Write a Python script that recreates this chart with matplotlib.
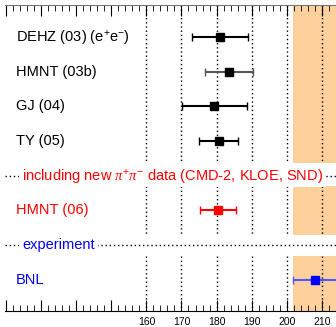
import matplotlib
matplotlib.use('Agg')
import matplotlib.pyplot as plt
import numpy as np

plt.rcParams['font.family'] = ['Liberation Sans', 'DejaVu Sans']
plt.rcParams['mathtext.fontset'] = 'custom'
plt.rcParams['mathtext.rm'] = 'Liberation Sans'
plt.rcParams['mathtext.it'] = 'Liberation Serif:italic'

labels = ['DEHZ (03) (e$^{+}$e$^{-}$)', 'HMNT (03b)', 'GJ (04)', 'TY (05)', 'HMNT (06)', 'BNL']
rows = [1, 2, 3, 4, 6, 8]
values = [180.9, 183.5, 179.4, 180.6, 180.4, 208.0]
errors = [8.0, 6.8, 9.3, 5.6, 5.1, 6.3]
colors = ['black', 'black', 'black', 'black', 'red', 'blue']
bar_colors = ['black', '#555555', 'black', 'black', 'red', '#5555ff']
text_colors = ['black', 'black', 'black', 'black', 'red', 'blue']

grid_x = [160, 170, 180, 190, 200, 210]
sections = [(0.08, 4.63), (5.29, 6.71), (7.31, 8.9)]
band = (values[-1] - errors[-1], 216)

fig = plt.figure(figsize=(3.36, 3.27), dpi=100)
ax = fig.add_axes([5 / 336, 16 / 327, 1 - 5 / 336 + 0.01, 306 / 327])
ax.set_xlim(119.7, 215)
ax.set_ylim(8.9, 0.08)

dots = (0, (1, 2))
for y0, y1 in sections:
    ax.fill_betweenx([y0, y1], band[0], band[1], color='#fdd09c', lw=0, zorder=0)
    for gx in grid_x:
        ax.plot([gx, gx], [y0, y1], color='black', ls=dots, lw=1, zorder=1)

for r, v, e, c, bc, lab, tc in zip(rows, values, errors, colors, bar_colors, labels, text_colors):
    ax.errorbar(v, r, xerr=e, fmt='s', color=c, ecolor=bc, ms=6, capsize=3,
                elinewidth=1.5, capthick=1, zorder=3)
    ax.text(122.7, r, lab, color=tc, fontsize=10.5, va='center', ha='left')

# separator lines
ax.axhline(5, color='black', ls=dots, lw=1, zorder=1)
ax.axhline(7, color='black', ls=dots, lw=1, zorder=1)
ax.text(124.6, 5, r'including new $\mathit{\pi}^{+}\mathit{\pi}^{-}$ data (CMD-2, KLOE, SND)',
        color='red', fontsize=10.5, va='center', ha='left', zorder=4,
        bbox=dict(facecolor='white', edgecolor='none', pad=2))
ax.text(124.6, 7, 'experiment', color='blue', fontsize=10.5, va='center',
        ha='left', zorder=4, bbox=dict(facecolor='white', edgecolor='none', pad=2))

ax.spines['left'].set_visible(False)
ax.spines['right'].set_visible(False)
ax.spines['top'].set_color('#777777')
ax.yaxis.set_visible(False)

ticks = np.arange(120, 220, 10)
ax.set_xticks(ticks)
ax.set_xticklabels([str(t) if t >= 160 else '' for t in ticks], fontsize=7.5)
ax.set_xticks(np.arange(120, 216, 2), minor=True)
ax.tick_params(axis='x', which='both', direction='in', top=True, pad=4)
ax.tick_params(axis='x', which='major', length=8)
ax.tick_params(axis='x', which='minor', length=4)
for t in ax.xaxis.get_ticklines(minor=False)[1::2]:
    t.set_color('#777777')
for t in ax.xaxis.get_ticklines(minor=True)[1::2]:
    t.set_color('#777777')

fig.savefig('out.png', dpi=100)
